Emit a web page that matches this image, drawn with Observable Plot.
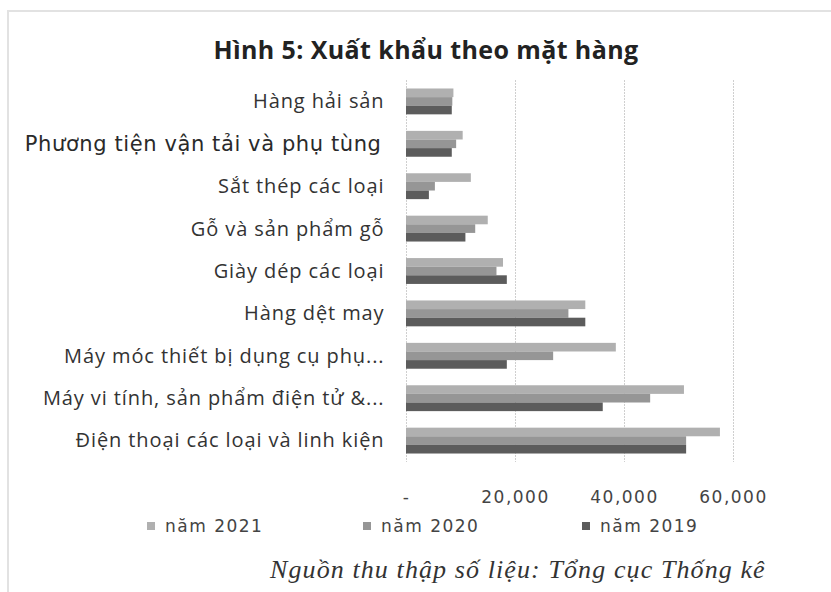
<!DOCTYPE html>
<html>
<head>
<meta charset="utf-8">
<script src="https://cdn.jsdelivr.net/npm/d3@7"></script>
<script src="https://cdn.jsdelivr.net/npm/@observablehq/plot@0.6"></script>
<style>
  html, body { margin: 0; padding: 0; background: #fff; }
  #wrap { position: relative; width: 831px; height: 592px; overflow: hidden; background: #fff; }
  #frame { position: absolute; left: 7px; top: 10px; width: 830px; height: 600px; border-left: 2px solid #e2e2e2; border-top: 2px solid #e2e2e2; box-sizing: border-box; }
  #title { position: absolute; left: 0; width: 852px; top: 32px; text-align: center; font-family: "Open Sans", sans-serif; font-weight: 700; font-size: 25px; letter-spacing: 0.4px; color: #222; }
  #chart { position: absolute; left: 0; top: 0; }
  .xt text { letter-spacing: 1.5px; }
  .yl text { letter-spacing: 0.9px; }
  .ys text { letter-spacing: 0.6px; }
  .legend-item { position: absolute; top: 516px; display: flex; align-items: center; font-family: "DejaVu Sans", sans-serif; font-size: 17px; letter-spacing: 1.5px; color: #444; }
  .legend-item span.sw { display: inline-block; width: 8px; height: 8px; margin-right: 10px; }
  #caption { position: absolute; left: 270px; top: 555px; font-family: "Liberation Serif", serif; font-style: italic; font-size: 26px; letter-spacing: 1.1px; color: #333; white-space: nowrap; }
</style>
</head>
<body>
<div id="wrap">
  <div id="frame"></div>
  <div id="title">Hình 5: Xuất khẩu theo mặt hàng</div>
  <div id="chart"></div>
  <div id="legend"></div>
  <div id="caption">Nguồn thu thập số liệu: Tổng cục Thống kê</div>
</div>
<script>
const categories = [
  "Hàng hải sản",
  "Phương tiện vận tải và phụ tùng",
  "Sắt thép các loại",
  "Gỗ và sản phẩm gỗ",
  "Giày dép các loại",
  "Hàng dệt may",
  "Máy móc thiết bị dụng cụ phụ...",
  "Máy vi tính, sản phẩm điện tử &...",
  "Điện thoại các loại và linh kiện"
];
const seriesNames = ["năm 2021", "năm 2020", "năm 2019"];
const v2021 = [8700, 10400, 11900, 15000, 17800, 32900, 38500, 51000, 57600];
const v2020 = [8500, 9200, 5300, 12700, 16600, 29800, 27000, 44800, 51400];
const v2019 = [8400, 8400, 4200, 10900, 18500, 32900, 18500, 36100, 51400];
const xTicks = [0, 20000, 40000, 60000];
const seriesColors = ["#b0b0b0", "#969696", "#5c5c5c"];

const seriesValues = [v2021, v2020, v2019];
const rows = [];
seriesNames.forEach((s, si) => {
  categories.forEach((c, ci) => rows.push({series: s, si, category: c, value: seriesValues[si][ci]}));
});

const W = 831, H = 510, mL = 406, mR = 98, mT = 80, mB = 48;
const padIn = 0.39, padOut = 0.2;
const bw = d3.scaleBand().domain(categories).range([mT, H - mB]).paddingInner(padIn).paddingOuter(padOut).bandwidth();
const sub = bw / 3;

const marks = [
  Plot.ruleX(xTicks, {stroke: "#cfcfcf", strokeWidth: 1, strokeDasharray: "2,1"})
];
seriesNames.forEach((s, si) => {
  marks.push(Plot.barX(rows.filter(r => r.series === s), {
    x: "value", y: "category", fill: "series",
    insetTop: si * sub, insetBottom: (2 - si) * sub
  }));
});
const specialCat = categories[1];
marks.push(
  Plot.text(categories.filter(c => c !== specialCat), {
    x: 0, y: d => d, text: d => d, textAnchor: "end", dx: -22,
    fontSize: 20, fontFamily: "Open Sans", fill: "#333", className: "yl"
  }),
  Plot.text([specialCat], {
    x: 0, y: d => d, text: d => d, textAnchor: "end", dx: -25,
    fontSize: 21, fontFamily: "DejaVu Sans", fill: "#2a2a2a", className: "ys"
  }),
  Plot.axisX(xTicks, {
    tickSize: 0, tickPadding: 28, label: null, className: "xt",
    tickFormat: d => d === 0 ? "-" : d3.format(",")(d),
    fontSize: 17, fontFamily: "DejaVu Sans", fill: "#444"
  })
);

const chart = Plot.plot({
  width: W, height: H,
  marginLeft: mL, marginRight: mR, marginTop: mT, marginBottom: mB,
  style: {background: "transparent", overflow: "visible"},
  x: {domain: [0, 60000], axis: null},
  y: {domain: categories, axis: null, paddingInner: padIn, paddingOuter: padOut, round: false},
  color: {domain: seriesNames, range: seriesColors},
  marks
});
document.getElementById("chart").appendChild(chart);

const legendLefts = [147, 363, 582];
const legend = document.getElementById("legend");
seriesNames.forEach((s, i) => {
  const item = document.createElement("div");
  item.className = "legend-item";
  item.style.left = legendLefts[i] + "px";
  const sw = document.createElement("span");
  sw.className = "sw";
  sw.style.background = seriesColors[i];
  item.appendChild(sw);
  item.appendChild(document.createTextNode(s));
  legend.appendChild(item);
});
</script>
</body>
</html>
